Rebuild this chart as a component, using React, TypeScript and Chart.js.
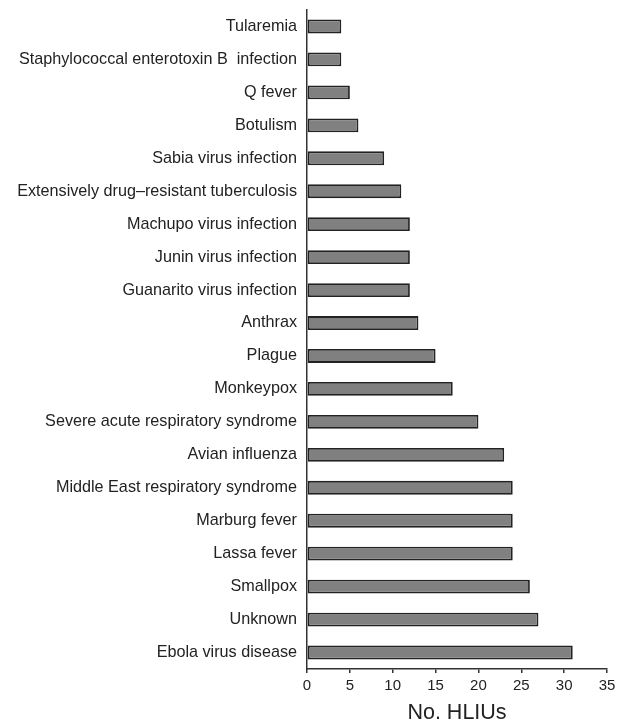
import React, { useEffect, useRef } from "react";
import { Chart, registerables } from "chart.js";

Chart.register(...registerables);

const categories: string[] = [
  "Tularemia",
  "Staphylococcal enterotoxin B  infection",
  "Q fever",
  "Botulism",
  "Sabia virus infection",
  "Extensively drug–resistant tuberculosis",
  "Machupo virus infection",
  "Junin virus infection",
  "Guanarito virus infection",
  "Anthrax",
  "Plague",
  "Monkeypox",
  "Severe acute respiratory syndrome",
  "Avian influenza",
  "Middle East respiratory syndrome",
  "Marburg fever",
  "Lassa fever",
  "Smallpox",
  "Unknown",
  "Ebola virus disease",
];

const hliuCounts: number[] = [4, 4, 5, 6, 9, 11, 12, 12, 12, 13, 15, 17, 20, 23, 24, 24, 24, 26, 27, 31];

const xTicks: number[] = [0, 5, 10, 15, 20, 25, 30, 35];
const xTitle = "No. HLIUs";

const W = 617;
const H = 722;

export default function App() {
  const ref = useRef<HTMLCanvasElement | null>(null);

  useEffect(() => {
    if (!ref.current) return;
    const font = "'Liberation Sans', Arial, Helvetica, sans-serif";
    const chart = new Chart(ref.current, {
      type: "bar",
      data: {
        labels: categories,
        datasets: [
          {
            data: hliuCounts,
            backgroundColor: "#808080",
            borderColor: "#222222",
            borderWidth: 1.8,
            borderSkipped: false,
            barPercentage: 0.42,
            categoryPercentage: 1,
          },
        ],
      },
      options: {
        indexAxis: "y",
        responsive: false,
        animation: false,
        layout: { padding: { top: 10, right: 10, left: 0, bottom: 0 } },
        plugins: {
          legend: { display: false },
          tooltip: { enabled: false },
        },
        scales: {
          x: {
            type: "linear",
            min: xTicks[0],
            max: xTicks[xTicks.length - 1],
            afterBuildTicks: (scale: any) => {
              scale.ticks = xTicks.map((v) => ({ value: v }));
            },
            afterFit: (scale: any) => {
              scale.height = 53;
              scale.paddingLeft = 0;
              scale.paddingRight = 0;
            },
            grid: {
              drawOnChartArea: false,
              drawTicks: true,
              tickLength: 4,
              color: "#333333",
              lineWidth: 1.5,
            },
            border: { display: true, color: "#333333", width: 1.5 },
            ticks: {
              padding: 4,
              color: "#222222",
              font: { family: font, size: 15 },
            },
            title: {
              display: true,
              text: xTitle,
              color: "#222222",
              font: { family: font, size: 21.5, lineHeight: 0.8 },
              padding: 0,
            },
          },
          y: {
            afterFit: (scale: any) => {
              scale.width = 307;
              scale.paddingTop = 0;
              scale.paddingBottom = 0;
            },
            grid: { display: false, drawTicks: false },
            border: { display: true, color: "#333333", width: 1.5 },
            ticks: {
              padding: 10,
              color: "#222222",
              autoSkip: false,
              font: { family: font, size: 16.2 },
            },
          },
        },
      },
    });
    return () => chart.destroy();
  }, []);

  return (
    <div style={{ position: "absolute", left: 0, top: 0, width: W, height: H, background: "#fff" }}>
      <canvas ref={ref} width={W} height={H} style={{ display: "block", width: W, height: H }} />
    </div>
  );
}
